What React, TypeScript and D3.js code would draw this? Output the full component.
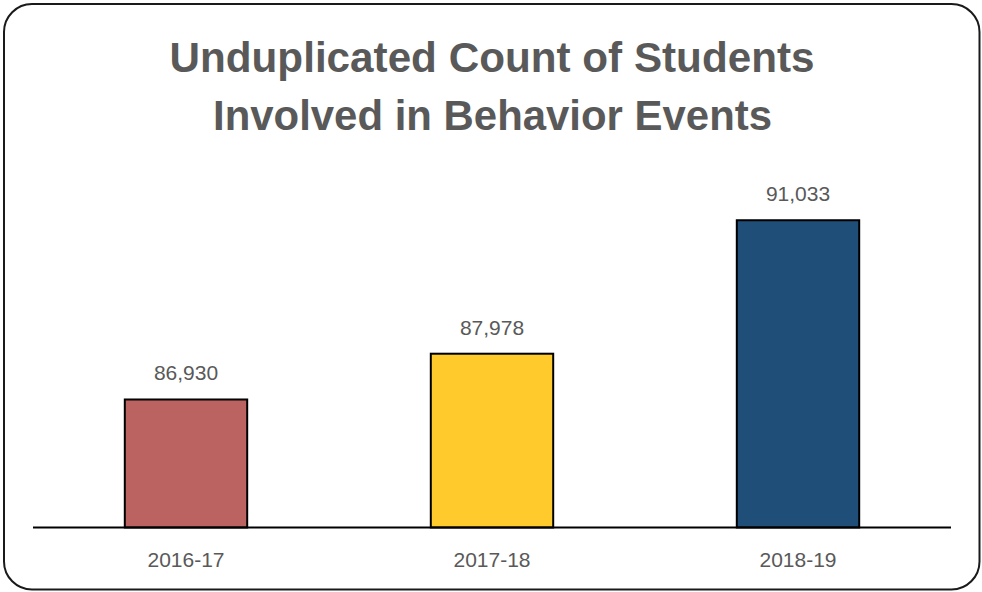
// @ts-nocheck
import * as d3 from "d3";

const titleLines = ["Unduplicated Count of Students", "Involved in Behavior Events"];
const years = ["2016-17", "2017-18", "2018-19"];
const students = [86930, 87978, 91033];
const barColors = ["#BA6361", "#FFCA2B", "#1F4E79"];
const yDomain = [84000, 92000];

export default function App() {
  const width = 982;
  const height = 592;
  const axisLeft = 33;
  const axisRight = 951;
  const baseline = 527.5;
  const plotTop = 178;

  const x = d3
    .scaleBand()
    .domain(years)
    .range([axisLeft, axisRight])
    .paddingInner(0.6)
    .paddingOuter(0.3);

  const y = d3.scaleLinear(yDomain, [baseline, plotTop]);
  const fmt = d3.format(",");
  const textColor = "#595959";
  const font = "'Liberation Sans', Arial, sans-serif";

  return (
    <svg
      width={width}
      height={height}
      style={{ position: "absolute", left: 0, top: 0, background: "#fff" }}
    >
      <rect
        x={4}
        y={4}
        width={975.5}
        height={585.5}
        rx={28}
        ry={28}
        fill="#fff"
        stroke="#1a1a1a"
        strokeWidth={2}
      />
      <g fontFamily={font} fontWeight="bold" fill={textColor} textAnchor="middle">
        <text x={492} y={72} fontSize={43} textLength={645} lengthAdjust="spacingAndGlyphs">
          {titleLines[0]}
        </text>
        <text x={492.5} y={130} fontSize={43} textLength={559} lengthAdjust="spacingAndGlyphs">
          {titleLines[1]}
        </text>
      </g>
      {years.map((yr, i) => (
        <rect
          key={yr}
          x={x(yr)}
          y={y(students[i])}
          width={x.bandwidth()}
          height={baseline - y(students[i])}
          fill={barColors[i]}
          stroke="#000"
          strokeWidth={2}
        />
      ))}
      <line x1={axisLeft} x2={axisRight} y1={baseline} y2={baseline} stroke="#000" strokeWidth={2} />
      <g fontFamily={font} fill={textColor} textAnchor="middle" fontSize={21}>
        {years.map((yr, i) => (
          <text key={yr + "v"} x={x(yr) + x.bandwidth() / 2} y={y(students[i]) - 19}>
            {fmt(students[i])}
          </text>
        ))}
        {years.map((yr) => (
          <text key={yr + "l"} x={x(yr) + x.bandwidth() / 2} y={567}>
            {yr}
          </text>
        ))}
      </g>
    </svg>
  );
}
